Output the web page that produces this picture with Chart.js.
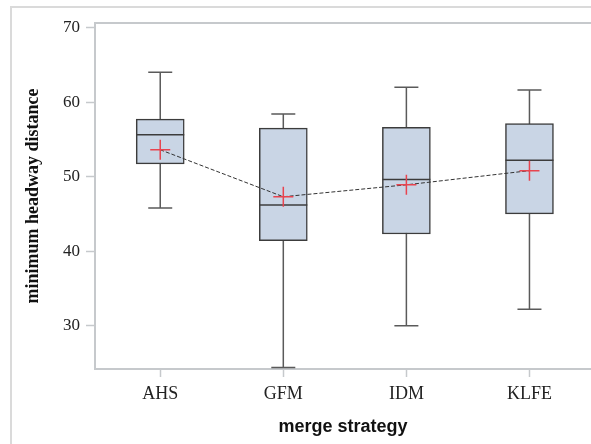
<!DOCTYPE html>
<html lang="en">
<head>
    <meta charset="UTF-8">
    <title>minimum headway distance by merge strategy</title>
    <script src="https://cdn.jsdelivr.net/npm/chart.js"></script>
    <style>
        body { margin: 0; background: #fff; }
        #frame {
            position: absolute; left: 10px; top: 6px; width: 700px; height: 500px;
            border-left: 2px solid #dadada; border-top: 2px solid #dadada;
        }
        #wrap { position: absolute; left: 0; top: 0; }
    </style>
</head>
<body>
    <div id="frame"></div>
    <div id="wrap"><canvas id="boxChart" width="591" height="444"></canvas></div>

    <script>
        // Values
        const strategies = ["AHS", "GFM", "IDM", "KLFE"];
        const whiskerMin = [45.8, 24.4, 30.0, 32.2];
        const q1 = [51.7, 41.4, 42.3, 45.0];
        const median = [55.6, 46.2, 49.6, 52.2];
        const q3 = [57.7, 56.5, 56.6, 57.1];
        const whiskerMax = [64.0, 58.4, 62.0, 61.6];
        const means = [53.6, 47.3, 48.9, 50.8];
        const yTicks = [30, 40, 50, 60, 70];

        // draws whiskers under the boxes and median lines over them
        const boxParts = {
            id: "boxParts",
            beforeDatasetsDraw(chart) {
                const meta = chart.getDatasetMeta(0);
                const y = chart.scales.y;
                const ctx = chart.ctx;
                ctx.save();
                ctx.strokeStyle = "#5a5a5a";
                ctx.lineWidth = 1.5;
                meta.data.forEach((bar, i) => {
                    const half = bar.width / 4;
                    const top = y.getPixelForValue(whiskerMax[i]);
                    const bottom = y.getPixelForValue(whiskerMin[i]);
                    ctx.beginPath();
                    ctx.moveTo(bar.x, top);
                    ctx.lineTo(bar.x, bottom);
                    ctx.moveTo(bar.x - half, top);
                    ctx.lineTo(bar.x + half, top);
                    ctx.moveTo(bar.x - half, bottom);
                    ctx.lineTo(bar.x + half, bottom);
                    ctx.stroke();
                });
                ctx.restore();
            },
            afterDatasetDraw(chart, args) {
                if (args.index !== 0) return;
                const y = chart.scales.y;
                const ctx = chart.ctx;
                ctx.save();
                ctx.strokeStyle = "#3c3c3c";
                ctx.lineWidth = 1.5;
                args.meta.data.forEach((bar, i) => {
                    const py = y.getPixelForValue(median[i]);
                    ctx.beginPath();
                    ctx.moveTo(bar.x - bar.width / 2, py);
                    ctx.lineTo(bar.x + bar.width / 2, py);
                    ctx.stroke();
                });
                ctx.restore();
            },
            beforeDraw(chart) {
                // plot frame top line
                const a = chart.chartArea;
                const ctx = chart.ctx;
                ctx.save();
                ctx.strokeStyle = "#c6c9cc";
                ctx.lineWidth = 2;
                ctx.beginPath();
                ctx.moveTo(a.left, a.top);
                ctx.lineTo(a.right + 10, a.top);
                ctx.stroke();
                ctx.restore();
            }
        };

        const ctx = document.getElementById("boxChart").getContext("2d");
        new Chart(ctx, {
            type: "bar",
            data: {
                datasets: [
                    {
                        label: "box",
                        data: strategies.map((s, i) => ({ x: i, y: [q1[i], q3[i]] })),
                        backgroundColor: "#c9d5e5",
                        borderColor: "#3c3c3c",
                        borderWidth: 1.5,
                        borderSkipped: false,
                        barThickness: 48,
                        order: 1
                    },
                    {
                        type: "line",
                        label: "mean",
                        data: strategies.map((s, i) => ({ x: i, y: means[i] })),
                        borderColor: "#333",
                        borderWidth: 1,
                        borderDash: [4, 2],
                        tension: 0,
                        fill: false,
                        pointStyle: "cross",
                        pointRadius: 10,
                        pointBorderColor: "#e8444f",
                        pointBorderWidth: 1.5,
                        order: 0
                    }
                ]
            },
            options: {
                responsive: false,
                animation: false,
                layout: { autoPadding: false, padding: { top: 23, right: 0, bottom: 0, left: 0 } },
                plugins: { legend: { display: false }, tooltip: { enabled: false } },
                scales: {
                    x: {
                        type: "linear",
                        offset: false,
                        min: -0.53,
                        max: 3.5,
                        afterBuildTicks: scale => {
                            scale.ticks = strategies.map((s, i) => ({ value: i }));
                        },
                        afterFit: scale => { scale.height = 75; },
                        ticks: {
                            callback: v => strategies[v],
                            color: "#222",
                            padding: 6,
                            font: { family: "Liberation Serif", size: 18 }
                        },
                        grid: { offset: false, drawOnChartArea: false, tickLength: 8, color: "#c6c9cc", tickWidth: 1.5 },
                        border: { color: "#c6c9cc", width: 2 },
                        title: {
                            display: true,
                            text: "merge strategy",
                            color: "#111",
                            font: { family: "Liberation Sans", size: 18, weight: "bold", lineHeight: 1.2 },
                            padding: { top: 0, bottom: 6 }
                        }
                    },
                    y: {
                        min: 24.2,
                        max: 70.6,
                        afterBuildTicks: scale => {
                            scale.ticks = yTicks.map(v => ({ value: v }));
                        },
                        afterFit: scale => { scale.width = 95; },
                        ticks: {
                            color: "#222",
                            padding: 6,
                            font: { family: "Liberation Serif", size: 17 }
                        },
                        grid: { drawOnChartArea: false, tickLength: 9, color: "#c6c9cc", tickWidth: 1.5 },
                        border: { color: "#c6c9cc", width: 2 },
                        title: {
                            display: true,
                            text: "minimum headway distance",
                            color: "#111",
                            font: { family: "Liberation Serif", size: 18, weight: "bold", lineHeight: 1.2 },
                            padding: { top: 23, bottom: 0 }
                        }
                    }
                }
            },
            plugins: [boxParts]
        });
    </script>
</body>
</html>
